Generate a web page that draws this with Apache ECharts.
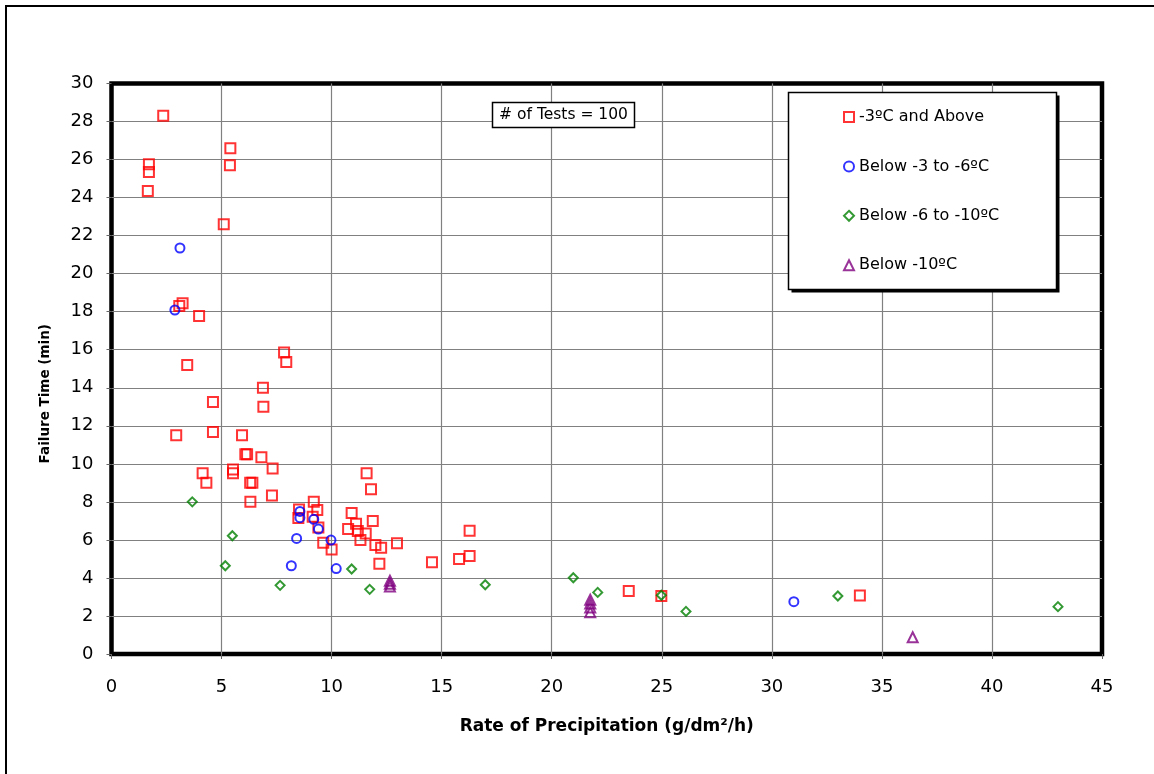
<!DOCTYPE html>
<html>
<head>
<meta charset="utf-8">
<script src="https://cdn.jsdelivr.net/npm/echarts@6/dist/echarts.min.js"></script>
<style>
  html, body { margin: 0; padding: 0; background: #fff; }
  #chart { width: 1154px; height: 774px; }
</style>
</head>
<body>
<div id="chart"></div>
<script>
// 失效时间 vs 降水率 散点图
var seriesNames = ['-3ºC and Above', 'Below -3 to -6ºC', 'Below -6 to -10ºC', 'Below -10ºC'];
var xTicks = [0, 5, 10, 15, 20, 25, 30, 35, 40, 45];
var yTicks = [0, 2, 4, 6, 8, 10, 12, 14, 16, 18, 20, 22, 24, 26, 28, 30];

// [降水率 g/dm²/h, 失效时间 min]
var aboveMinus3 = [
  [2.35, 28.3], [1.7, 25.75], [1.7, 25.35], [1.65, 24.35], [5.4, 26.6], [5.38, 25.7],
  [5.1, 22.6], [3.23, 18.45], [3.08, 18.3], [3.98, 17.77], [7.84, 15.86], [7.94, 15.35],
  [3.44, 15.2], [6.88, 14.0], [6.9, 13.0], [4.61, 13.25], [2.94, 11.5], [4.61, 11.67],
  [5.93, 11.5], [6.08, 10.5], [6.16, 10.5], [6.81, 10.35], [7.32, 9.76], [4.14, 9.5],
  [5.52, 9.7], [5.52, 9.5], [4.31, 9.0], [6.3, 9.0], [6.4, 9.0], [7.29, 8.34],
  [6.31, 8.0], [11.59, 9.5], [11.79, 8.66], [9.19, 8.0], [9.35, 7.57], [8.52, 7.6],
  [8.49, 7.15], [9.14, 7.22], [9.4, 6.65], [10.91, 7.42], [11.11, 6.85], [11.87, 7.0],
  [10.75, 6.57], [11.19, 6.47], [11.55, 6.33], [11.31, 5.99], [11.99, 5.73], [12.25, 5.59],
  [12.97, 5.82], [12.17, 4.75], [9.62, 5.85], [10.0, 5.5], [14.56, 4.82], [15.79, 4.99],
  [16.27, 5.15], [16.27, 6.48], [23.5, 3.31], [24.98, 3.05], [34.0, 3.07]
];
var minus3to6 = [
  [3.11, 21.35], [2.88, 18.09], [8.56, 7.5], [8.56, 7.17], [9.19, 7.08], [9.4, 6.57],
  [8.41, 6.08], [9.97, 5.99], [8.17, 4.64], [10.21, 4.49], [31.0, 2.75]
];
var minus6to10 = [
  [3.67, 8.0], [5.49, 6.22], [5.17, 4.64], [7.66, 3.61], [10.91, 4.47], [11.73, 3.4],
  [16.98, 3.64], [20.98, 4.01], [22.09, 3.24], [24.98, 3.09], [26.1, 2.24], [33.0, 3.05],
  [43.0, 2.49]
];
var belowMinus10 = [
  [12.65, 3.55], [12.65, 3.7], [12.65, 3.85],
  [21.75, 2.2], [21.75, 2.45], [21.75, 2.65], [21.75, 2.85],
  [36.4, 0.88]
];
var testCount = 100;

var chart = echarts.init(document.getElementById('chart'));
var fontFamily = 'DejaVu Sans';

function scatter(name, data, symbol, size, color) {
  return {
    name: name,
    type: 'scatter',
    data: data,
    symbol: symbol,
    symbolSize: size,
    itemStyle: { color: 'rgba(255,255,255,0)', borderColor: color, borderWidth: 2 },
    emphasis: { disabled: true }
  };
}

var option = {
  animation: false,
  backgroundColor: '#fff',
  grid: {
    left: 111.5, right: 52, top: 83.5, bottom: 120,
    show: true, borderColor: '#000', borderWidth: 4.5, backgroundColor: 'transparent'
  },
  xAxis: {
    type: 'value', min: xTicks[0], max: xTicks[xTicks.length - 1], interval: 5,
    name: 'Rate of Precipitation (g/dm²/h)', nameLocation: 'middle', nameGap: 64,
    nameTextStyle: { fontFamily: fontFamily, fontWeight: 'bold', fontSize: 17, color: '#000' },
    axisLine: { show: false },
    axisTick: { show: true, length: 5, lineStyle: { color: '#666', width: 1 } },
    axisLabel: { fontFamily: fontFamily, fontSize: 18, color: '#000', margin: 24 },
    splitLine: { show: true, showMinLine: false, showMaxLine: false,
                 lineStyle: { color: '#808080', width: 1.2 } }
  },
  yAxis: {
    type: 'value', min: yTicks[0], max: yTicks[yTicks.length - 1], interval: 2,
    name: 'Failure Time (min)', nameLocation: 'middle', nameGap: 59,
    nameTextStyle: { fontFamily: fontFamily, fontWeight: 'bold', fontSize: 13.5, color: '#000',
                     padding: [0, 50, 0, 0] },
    axisLine: { show: false },
    axisTick: { show: true, length: 5, lineStyle: { color: '#666', width: 1 } },
    axisLabel: { fontFamily: fontFamily, fontSize: 18, color: '#000', margin: 18 },
    splitLine: { show: true, showMinLine: false, showMaxLine: false,
                 lineStyle: { color: '#808080', width: 1.2 } }
  },
  legend: {
    orient: 'vertical', left: 838, top: 102,
    itemWidth: 10, itemHeight: 10, itemGap: 29.4,
    padding: 5, z: 10,
    itemStyle: { borderWidth: 2 },
    textStyle: { fontFamily: fontFamily, fontSize: 16, color: '#000', lineHeight: 20 },
    data: seriesNames
  },
  graphic: [
    { type: 'rect', shape: { x: 6, y: 6, width: 1200, height: 820 },
      style: { fill: 'none', stroke: '#000', lineWidth: 2 }, z: 0, silent: true },
    { type: 'rect', shape: { x: 791.5, y: 95.5, width: 268, height: 197 },
      style: { fill: '#000' }, z: 5, silent: true },
    { type: 'rect', shape: { x: 788.5, y: 92.5, width: 268, height: 197 },
      style: { fill: '#fff', stroke: '#000', lineWidth: 1.5 }, z: 6, silent: true },
    { type: 'rect', shape: { x: 492.5, y: 102.5, width: 142, height: 25 },
      style: { fill: '#fff', stroke: '#000', lineWidth: 1.5 }, z: 6, silent: true },
    { type: 'text', x: 563.5, y: 115, z: 7, silent: true,
      style: { text: '# of Tests = ' + testCount, fontFamily: fontFamily, fontSize: 15.5,
               fill: '#000', align: 'center', verticalAlign: 'middle' } }
  ],
  series: [
    scatter(seriesNames[0], aboveMinus3, 'rect', 10, '#ff0000'),
    scatter(seriesNames[1], minus3to6, 'circle', 9, '#0000ff'),
    scatter(seriesNames[2], minus6to10, 'diamond', 9, '#008000'),
    scatter(seriesNames[3], belowMinus10, 'triangle', 10, '#800080')
  ]
};
chart.setOption(option);
</script>
</body>
</html>
